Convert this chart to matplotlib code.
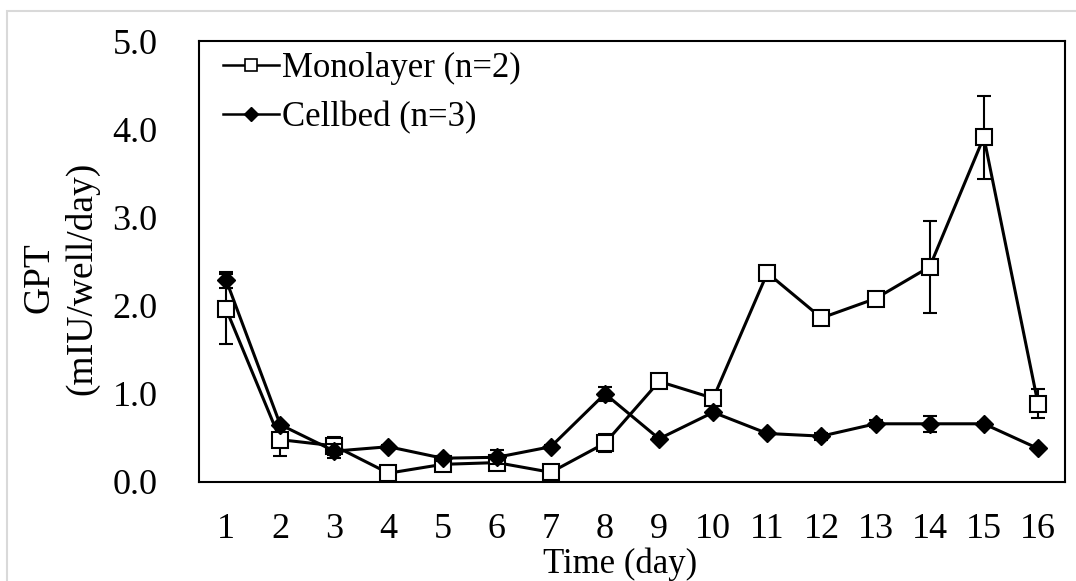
import matplotlib
matplotlib.use("Agg")
import matplotlib.pyplot as plt
from matplotlib.lines import Line2D
from matplotlib.patches import Rectangle

plt.rcParams["font.family"] = ["Liberation Serif", "DejaVu Serif"]

days = list(range(1, 17))

mono_mean = [1.96, 0.48, 0.41, 0.10, 0.20, 0.22, 0.11, 0.44,
             1.14, 0.95, 2.37, 1.86, 2.08, 2.44, 3.91, 0.89]
mono_err = [0.40, 0.18, 0.10, 0.02, 0.04, 0.03, 0.02, 0.10,
            0.02, 0.02, 0.02, 0.02, 0.02, 0.52, 0.47, 0.16]

cell_mean = [2.29, 0.65, 0.35, 0.40, 0.27, 0.28, 0.40, 1.00,
             0.49, 0.79, 0.55, 0.52, 0.66, 0.66, 0.66, 0.38]
cell_err = [0.09, 0.02, 0.08, 0.02, 0.03, 0.08, 0.02, 0.08,
            0.02, 0.02, 0.02, 0.04, 0.04, 0.09, 0.02, 0.02]

fig = plt.figure(figsize=(10.76, 5.81), dpi=100)
ax = fig.add_axes([0.185, 0.1704, 0.8048, 0.759])

# light outer frame of the chart area
fig.patches.append(Rectangle((7 / 1076, -0.1), 1.2, 1 - 11 / 581 + 0.1,
                             transform=fig.transFigure, fill=False,
                             edgecolor="#d9d9d9", linewidth=1.5))

ax.errorbar(days, mono_mean, yerr=mono_err, color="black", lw=2.2,
            marker="s", ms=12, mfc="white", mec="black", mew=1.5,
            ecolor="black", elinewidth=1.5, capsize=5, capthick=1.5,
            zorder=3)
ax.errorbar(days, cell_mean, yerr=cell_err, color="black", lw=2.2,
            marker="D", ms=9, mfc="black", mec="black",
            ecolor="black", elinewidth=1.5, capsize=5, capthick=1.5,
            zorder=4)

ax.set_xlim(0.5, 16.5)
ax.set_ylim(0, 5)
ax.set_xticks(days)
ax.set_yticks([0, 1, 2, 3, 4, 5])
ax.set_yticklabels([f"{v:.1f}" for v in [0, 1, 2, 3, 4, 5]])
ax.tick_params(axis="x", length=0, pad=22, labelsize=26)
ax.tick_params(axis="y", length=0, pad=30, labelsize=26)
for s in ax.spines.values():
    s.set_linewidth(1.5)

fig.text(61 / 1076, 1 - 278 / 581, "GPT\n(mIU/well/day)", rotation=90,
         ha="center", va="center", fontsize=27, linespacing=1.3)
fig.text(620 / 1076, 1 - 564 / 581, "Time (day)", ha="center", va="center",
         fontsize=25)

handles = [
    Line2D([], [], color="black", lw=1.8, marker="s", ms=8, mfc="white",
           mec="black", mew=1.2),
    Line2D([], [], color="black", lw=1.8, marker="D", ms=7, mfc="black",
           mec="black"),
]
ax.legend(handles, ["Monolayer (n=2)", "Cellbed (n=3)"], loc="upper left",
          frameon=False, fontsize=25, handlelength=1.6, handletextpad=0.1,
          borderaxespad=0.3, labelspacing=0.45, bbox_to_anchor=(0.0, 1.03))

fig.savefig("out.png", dpi=100)
